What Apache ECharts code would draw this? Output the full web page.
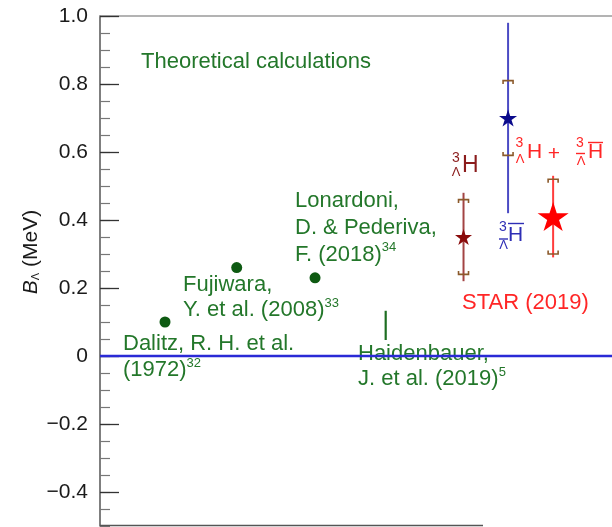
<!DOCTYPE html>
<html><head><meta charset="utf-8">
<script src="https://cdn.jsdelivr.net/npm/echarts@6/dist/echarts.min.js"></script>
<style>html,body{margin:0;padding:0;background:#fff}#c{width:612px;height:527px}</style>
</head><body><div id="c"></div>
<script>
// ---- data ----
const theoryNames = ['Dalitz 1972', 'Fujiwara 2008', 'Lonardoni 2018'];
const theoryX = [1.27, 2.67, 4.20];
const theoryB = [0.10, 0.26, 0.23];
const haidenX = [5.58];
const haidenLow = [0.047];
const haidenHigh = [0.133];
const starNames = ['hypertriton', 'antihypertriton', 'combined'];
const starX = [7.10, 7.97, 8.85];
const starB = [0.35, 0.70, 0.41];
const statErr = [0.13, 0.28, 0.12];
const systErr = [0.11, 0.11, 0.11];
const yMin = -0.5, yMax = 1.0, yMajorMin = -0.4;

// ---- styles ----
const FONT = '"Liberation Sans", Arial, sans-serif';
const G = '#23772a';
const starColor = ['#8a0c0c', '#0b0b8c', '#ff0000'];
const barColor = ['#a34444', '#4b4bc4', '#ff3c3c'];
const starSize = [[17, 16], [18, 17], [31, 29]];
const STAR = 'path://M50 0 L61.2 34.5 L97.6 34.5 L68.2 55.9 L79.4 90.5 L50 69.1 L20.6 90.5 L31.8 55.9 L2.4 34.5 L38.8 34.5 Z';

const chart = echarts.init(document.getElementById('c'));

function t(text, x, y, size, fill, align) {
  return {type: 'text', x: x, y: y, z: 1,
    style: {text: text, font: size + 'px ' + FONT, fill: fill,
      align: align || 'center', verticalAlign: 'middle',
      textAlign: align || 'center', textVerticalAlign: 'middle'}};
}
function bar(x1, x2, y, c) {
  return {type: 'line', z: 1, shape: {x1: x1, y1: y, x2: x2, y2: y}, style: {stroke: c, lineWidth: 1.4}};
}
function refText(text, x, y, lh) {
  return {type: 'text', x: x, y: y, z: 1,
    style: {text: text, font: '22px ' + FONT, fill: G, lineHeight: lh,
      align: 'left', verticalAlign: 'top', textAlign: 'left', textVerticalAlign: 'top',
      rich: {s: {fontSize: 13, fontFamily: FONT, fill: G, lineHeight: 14, verticalAlign: 'top'}}}};
}
const HR = '#8b1c1c', AB = '#2e2eb5', RC = '#ff2626';

const option = {
  animation: false,
  backgroundColor: '#fff',
  grid: [
    {left: 100, top: 16, right: 0, height: 510},
    {left: 100, top: 16, right: 0, height: 476}
  ],
  xAxis: [
    {gridIndex: 0, type: 'value', min: 0, max: 10, show: false},
    {gridIndex: 0, type: 'value', min: 0, max: 10, position: 'top',
      axisLine: {show: true, lineStyle: {color: '#9a9a9a', width: 1.5}},
      axisTick: {show: false}, axisLabel: {show: false}, splitLine: {show: false}},
    {gridIndex: 1, type: 'value', min: 0, max: 10, show: false}
  ],
  yAxis: [
    {gridIndex: 0, type: 'value', min: yMin, max: yMax, interval: 0.05,
      axisLine: {show: true, lineStyle: {color: '#555', width: 1.5}},
      axisTick: {show: true, inside: true, length: 10, lineStyle: {color: '#777', width: 1.2}},
      axisLabel: {show: false}, splitLine: {show: false}},
    {gridIndex: 1, type: 'value', min: yMajorMin, max: yMax, interval: 0.2,
      axisLine: {show: false},
      axisTick: {show: true, inside: true, length: 19, lineStyle: {color: '#333', width: 1.3}},
      axisLabel: {show: true, margin: 12, color: '#1a1a1a', fontSize: 21, fontFamily: FONT,
        formatter: v => Math.abs(v) < 1e-9 ? '0' : (v < 0 ? '\u2212' : '') + Math.abs(v).toFixed(1)},
      splitLine: {show: false}}
  ],
  graphic: [
    {type: 'line', z: 1, shape: {x1: 100, y1: 525.5, x2: 483, y2: 525.5}, style: {stroke: '#555', lineWidth: 1.5}},
    {type: 'text', x: 31, y: 252, rotation: Math.PI / 2, z: 1,
      style: {text: '{i|B}{s|Λ} (MeV)', font: '21px ' + FONT, fill: '#1a1a1a',
        align: 'center', verticalAlign: 'middle', textAlign: 'center', textVerticalAlign: 'middle',
        rich: {i: {fontStyle: 'italic', fontSize: 21, fontFamily: FONT, fill: '#1a1a1a'},
               s: {fontSize: 11, fontFamily: FONT, fill: '#1a1a1a', verticalAlign: 'bottom', lineHeight: 12}}}},
    t('Theoretical calculations', 141, 62, 22, G, 'left'),
    refText('Dalitz, R. H. et al.\n(1972){s|32}', 123, 331, 26),
    refText('Fujiwara,\nY. et al. (2008){s|33}', 183, 272, 25),
    refText('Lonardoni,\nD. & Pederiva,\nF. (2018){s|34}', 295, 187, 27),
    refText('Haidenbauer,\nJ. et al. (2019){s|5}', 358, 341, 25),
    t('STAR (2019)', 462, 303, 22, RC, 'left'),
    // hypertriton label
    t('3', 456, 158, 14, HR), t('Λ', 456, 172, 13, HR), t('H', 462, 166, 23, HR, 'left'),
    // antihypertriton label
    t('3', 503, 227, 14, AB), bar(499, 508, 239, AB), t('Λ', 503.5, 245.5, 13, AB),
    t('H', 508, 235, 21, AB, 'left'), bar(508, 524, 223.5, AB),
    // combined label
    t('3', 519.5, 143, 14, RC), t('Λ', 520, 159, 13, RC), t('H', 527, 152, 21, RC, 'left'),
    t('+', 554, 154, 21, RC),
    t('3', 580, 143, 14, RC), bar(576, 585, 153.5, RC), t('Λ', 581, 161.5, 13, RC),
    t('H', 588, 152, 21, RC, 'left'), bar(588, 603, 142.5, RC)
  ],
  series: [
    {type: 'line', name: 'zero', xAxisIndex: 0, yAxisIndex: 0, z: 10, silent: true,
      data: [[0, 0], [10, 0]], symbol: 'none', lineStyle: {color: '#2a2ad6', width: 2.5}},
    {type: 'scatter', name: 'theory', xAxisIndex: 0, yAxisIndex: 0, symbolSize: 11,
      itemStyle: {color: '#0e5a12', opacity: 1},
      data: theoryX.map((x, i) => ({name: theoryNames[i], value: [x, theoryB[i]]}))},
    {type: 'custom', name: 'haidenbauer', xAxisIndex: 0, yAxisIndex: 0,
      data: haidenX.map((x, i) => [x, haidenLow[i], haidenHigh[i]]),
      renderItem: (p, api) => {
        const a = api.coord([api.value(0), api.value(1)]), b = api.coord([api.value(0), api.value(2)]);
        return {type: 'line', shape: {x1: a[0], y1: a[1], x2: b[0], y2: b[1]}, style: {stroke: '#1e6e22', lineWidth: 2.2}};
      }},
    {type: 'custom', name: 'stat', xAxisIndex: 0, yAxisIndex: 0, z: 3,
      data: starX.map((x, i) => [x, starB[i] - statErr[i], starB[i] + statErr[i]]),
      renderItem: (p, api) => {
        const a = api.coord([api.value(0), api.value(1)]), b = api.coord([api.value(0), api.value(2)]);
        return {type: 'line', shape: {x1: a[0], y1: a[1], x2: b[0], y2: b[1]},
          style: {stroke: barColor[p.dataIndex], lineWidth: 2}};
      }},
    {type: 'custom', name: 'syst', xAxisIndex: 0, yAxisIndex: 0, z: 4,
      data: starX.map((x, i) => [x, starB[i] - systErr[i], starB[i] + systErr[i]]),
      renderItem: (p, api) => {
        const lo = api.coord([api.value(0), api.value(1)]), hi = api.coord([api.value(0), api.value(2)]);
        const w = 5, l = 3.5, st = {stroke: '#8b5a2b', lineWidth: 1.6, fill: null};
        return {type: 'group', children: [
          {type: 'polyline', shape: {points: [[hi[0] - w, hi[1] + l], [hi[0] - w, hi[1]], [hi[0] + w, hi[1]], [hi[0] + w, hi[1] + l]]}, style: st},
          {type: 'polyline', shape: {points: [[lo[0] - w, lo[1] - l], [lo[0] - w, lo[1]], [lo[0] + w, lo[1]], [lo[0] + w, lo[1] - l]]}, style: st}
        ]};
      }},
    {type: 'scatter', name: 'STAR', xAxisIndex: 0, yAxisIndex: 0, z: 5, symbol: STAR,
      data: starX.map((x, i) => ({name: starNames[i], value: [x, starB[i]],
        symbolSize: starSize[i], itemStyle: {color: starColor[i], opacity: 1}}))}
  ]
};
chart.setOption(option);
</script></body></html>
